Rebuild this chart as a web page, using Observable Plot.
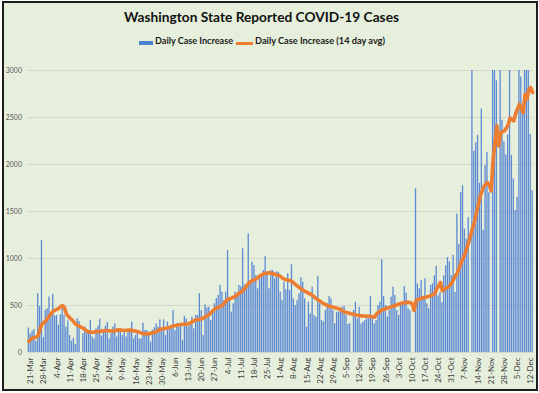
<!DOCTYPE html>
<html><head><meta charset="utf-8">
<script src="https://cdn.jsdelivr.net/npm/d3@7"></script>
<script src="https://cdn.jsdelivr.net/npm/@observablehq/plot@0.6"></script>
<style>
html,body{margin:0;padding:0;background:#fff;}
#wrap{position:relative;width:539px;height:393px;overflow:hidden;font-family:Lato,"Open Sans",sans-serif;}
#frame{position:absolute;left:2px;top:1px;width:536px;height:390px;box-sizing:border-box;border:2px solid #1e1e1e;background:#e6efdc;}
.fit{position:absolute;white-space:nowrap;display:inline-block;transform-origin:0 0;}
#title{top:10px;font-size:14px;line-height:14px;font-weight:700;color:#111;}
.lg{top:37px;font-size:8.5px;line-height:8.5px;font-weight:700;color:#1a1a1a;}
#sw1{position:absolute;left:139px;top:41px;width:14px;height:4px;background:#4f7fd0;}
#sw2{position:absolute;left:236px;top:42px;width:17px;height:3px;background:#ed7d31;}
#chart{position:absolute;left:0;top:56px;}
</style></head>
<body>
<div id="wrap">
  <div id="frame"></div>
  <span id="title" class="fit">Washington State Reported COVID-19 Cases</span>
  <div id="sw1"></div>
  <span id="lg1" class="fit lg">Daily Case Increase</span>
  <div id="sw2"></div>
  <span id="lg2" class="fit lg">Daily Case Increase (14 day avg)</span>
  <div id="chart"></div>
</div>
<script>
// ---- data ----
const firstDay = new Date(2020, 2, 20);   // 20-Mar-2020
const lastDayExclusive = new Date(2020, 11, 14); // through 13-Dec-2020

const dailyCases = [
  // 20-Mar .. 16-Apr
  260,200,225,245,120,625,490,1190,160,450,465,590,410,620,390,395,290,400,505,395,270,335,180,120,150,85,360,330,
  // 17-Apr .. 11-May
  0,200,270,215,230,340,165,145,250,280,355,175,215,280,320,145,200,270,305,165,235,250,180,215,165,
  // 12-May .. 4-Jul
  234,216,323,145,181,199,145,145,312,234,234,216,110,234,262,305,270,347,234,347,181,323,252,270,
  447,
  234,305,270,305,128,383,358,270,287,376,252,394,394,
  624,
  447,181,507,475,482,340,411,518,571,606,713,642,553,642,
  1085,
  // 5-Jul .. 28-Aug
  553,429,518,642,631,713,700,1103,720,690,1262,
  730,961,925,819,677,784,801,872,
  1021,
  837,677,872,872,784,855,855,642,553,748,667,837,660,
  933,
  571,500,553,624,794,748,571,269,535,411,695,394,376,
  808,
  518,340,323,447,518,596,571,
  // 29-Aug .. 20-Oct
  447,305,429,429,447,482,489,394,298,305,
  0,
  447,535,358,482,305,323,340,358,358,596,358,305,340,500,535,986,596,500,376,447,
  589,695,606,447,394,518,518,702,631,465,447,0,0,1741,730,677,766,571,784,518,465,713,
  // 21-Oct .. 13-Dec
  730,816,915,603,638,532,816,922,1010,964,816,1035,638,1472,1150,1702,1773,1312,1206,1436,
  0,3000,2140,2230,2310,1800,2590,1300,1990,2130,1700,0,3000,3000,2890,0,3000,2470,2240,2100,
  2315,3000,2096,1847,1510,1652,3000,2930,2557,3000,3000,3000,2320,1720
];

const avg14 = [
  120,140,155,160,165,180,250,300,320,335,365,390,415,440,450,460,470,490,500,475,
  410,385,365,345,325,300,290,278,265,258,240,228,218,215,216,218,220,222,224,228,
  232,234,232,230,228,230,235,238,241,238,236,234,236,240,238,234,230,226,222,214,
  206,200,199,198,199,205,210,216,225,235,245,252,255,258,262,268,275,282,287,291,
  295,298,300,302,304,305,315,328,340,345,350,354,358,370,382,394,404,425,445,465,
  474,483,492,500,525,548,571,571,580,590,600,615,630,645,660,685,710,740,755,765,
  775,784,800,815,828,837,842,846,847,843,838,830,825,819,808,790,780,775,770,766,
  755,740,720,705,690,675,662,650,640,628,620,605,588,572,558,545,530,518,508,498,
  490,488,482,476,470,465,455,442,430,425,420,415,410,405,400,395,392,390,388,387,
  386,385,383,380,376,410,428,440,454,460,468,474,480,487,494,500,508,516,523,527,
  530,533,535,530,518,447,553,562,570,578,583,588,593,598,606,615,630,674,710,745,
  656,670,685,695,715,740,780,815,851,900,955,1000,1050,1110,1170,1241,1320,1383,1470,1560,
  1650,1710,1765,1790,1808,1780,1720,2050,2234,2411,2198,2340,2350,2358,2385,2420,2495,2480,2464,2540,
  2590,2640,2600,2553,2748,2695,2795,2819,2766
];

const tickLabels = ["21-Mar","28-Mar","4-Apr","11-Apr","18-Apr","25-Apr","2-May","9-May","16-May","23-May",
  "30-May","6-Jun","13-Jun","20-Jun","27-Jun","4-Jul","11-Jul","18-Jul","25-Jul","1-Aug","8-Aug","15-Aug",
  "22-Aug","29-Aug","5-Sep","12-Sep","19-Sep","26-Sep","3-Oct","10-Oct","17-Oct","24-Oct","31-Oct","7-Nov",
  "14-Nov","21-Nov","28-Nov","5-Dec","12-Dec"];
const yTicks = [0,500,1000,1500,2000,2500,3000];

// ---- build ----
const fmt = d3.timeFormat("%-d-%b");
const days = d3.timeDay.range(firstDay, lastDayExclusive).map(fmt);
const rows = days.map((day, i) => ({day, cases: dailyCases[i], avg: avg14[i]}));

const chart = Plot.plot({
  width: 539,
  height: 334,
  marginLeft: 27.5,
  marginRight: 6.1,
  marginTop: 14,
  marginBottom: 38,
  style: {background: "transparent", fontFamily: "Lato, 'Open Sans', sans-serif"},
  x: {type: "band", domain: days, paddingInner: 0.32, paddingOuter: 0.1, axis: null},
  y: {domain: [0, 3000], axis: null},
  marks: [
    Plot.gridY(yTicks, {stroke: "#d3d8cb", strokeOpacity: 1, strokeWidth: 1}),
    Plot.barY(rows, {x: "day", y: "cases", fill: "#5a88d3"}),
    Plot.line(rows, {x: "day", y: "avg", stroke: "#ed7d31", strokeWidth: 3.6, strokeLinejoin: "round", strokeLinecap: "round"}),
    Plot.axisY(yTicks, {tickSize: 0, tickPadding: 6, fontSize: 7, color: "#595959", label: null, tickFormat: d => String(d)}),
    Plot.axisX(tickLabels, {tickSize: 0, tickRotate: -90, tickPadding: 5, fontSize: 8, color: "#404040", label: null})
  ]
});
document.getElementById("chart").appendChild(chart);

// fit header texts to the reference widths
function fit(id, left, width) {
  const el = document.getElementById(id);
  el.style.left = left + "px";
  const w = el.getBoundingClientRect().width;
  el.style.transform = "scaleX(" + (width / w) + ")";
}
fit("title", 124, 275);
fit("lg1", 154.5, 78);
fit("lg2", 254.5, 130);
</script>
</body></html>
